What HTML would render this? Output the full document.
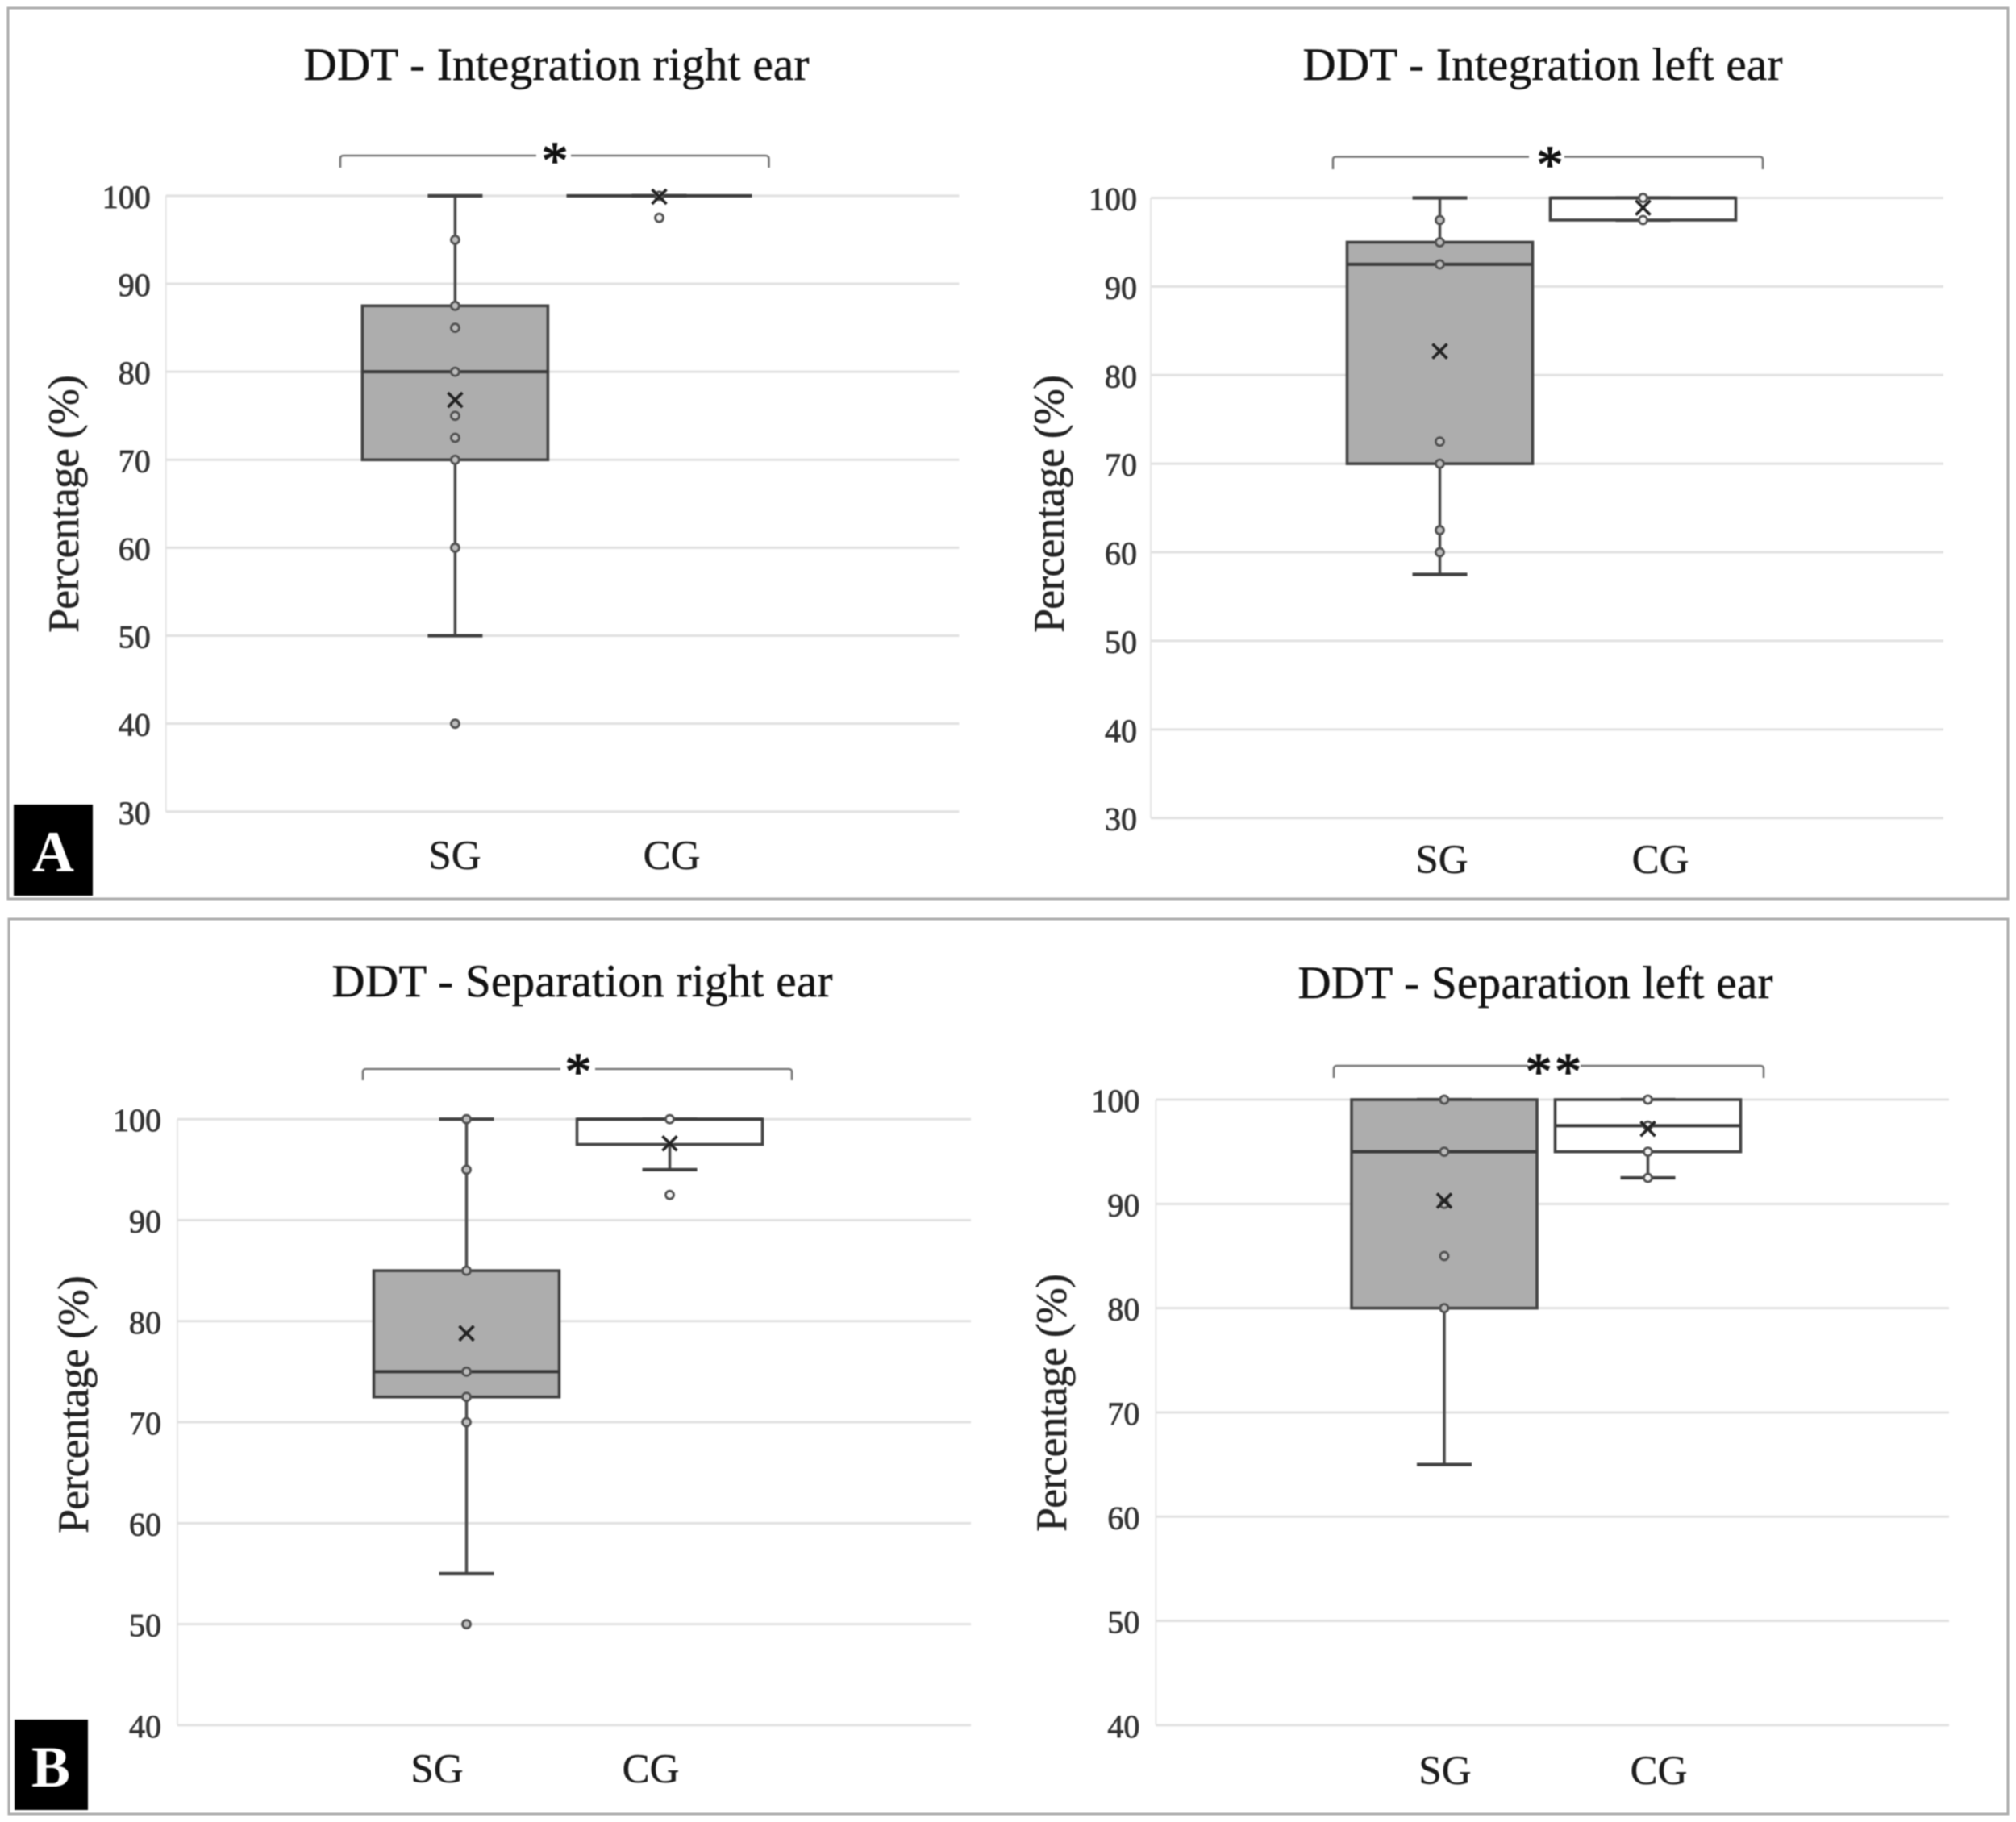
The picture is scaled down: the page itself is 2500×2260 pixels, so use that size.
<!DOCTYPE html>
<html lang="en">
<head>
<meta charset="utf-8">
<title>DDT box plots</title>
<style>
html,body{margin:0;padding:0;background:#fff;}
svg{display:block;filter:blur(0.8px);}
text{font-family:"Liberation Serif",serif;}
.chart-title{font-size:57px;fill:#111;text-anchor:middle;stroke:#111;stroke-width:.5px;}
.axis-title{font-size:54px;fill:#222;text-anchor:middle;stroke:#222;stroke-width:.4px;}
.tick{font-size:40px;fill:#333;text-anchor:end;stroke:#333;stroke-width:.8px;}
.cat{font-size:51px;fill:#1c1c1c;text-anchor:middle;stroke:#1c1c1c;stroke-width:.4px;}
.star{font-size:66px;fill:#111;text-anchor:middle;stroke:#111;stroke-width:1.4px;}
.panel-letter{font-size:72px;fill:#fff;text-anchor:middle;font-weight:bold;}
.bracket{fill:none;stroke:#777;stroke-width:2.6;}
</style>
</head>
<body>
<svg id="figure" xmlns="http://www.w3.org/2000/svg" width="2500" height="2260" viewBox="0 0 2500 2260">
  <rect width="2500" height="2260" fill="#fff"/>
  <rect x="10" y="10" width="2480" height="1105" fill="none" stroke="#ababab" stroke-width="3"/>
  <rect x="11" y="1140" width="2479" height="1110" fill="none" stroke="#ababab" stroke-width="3"/>
  <rect x="17" y="998" width="98" height="113" fill="#000"/>
  <text class="panel-letter" x="66" y="1081">A</text>
  <rect x="18" y="2133" width="91" height="112" fill="#000"/>
  <text class="panel-letter" x="63" y="2216">B</text>

  <text class="chart-title" x="690" y="99" textLength="627">DDT - Integration right ear</text>
  <text class="chart-title" x="1913" y="99" textLength="595">DDT - Integration left ear</text>
  <text class="chart-title" x="722" y="1236" textLength="621">DDT - Separation right ear</text>
  <text class="chart-title" x="1904" y="1238" textLength="589">DDT - Separation left ear</text>

  <text class="axis-title" transform="translate(97 625) rotate(-90)" textLength="320">Percentage (%)</text>
  <text class="axis-title" transform="translate(1319 625) rotate(-90)" textLength="320">Percentage (%)</text>
  <text class="axis-title" transform="translate(109 1742) rotate(-90)" textLength="320">Percentage (%)</text>
  <text class="axis-title" transform="translate(1322 1740) rotate(-90)" textLength="320">Percentage (%)</text>

  <path class="bracket" d="M422 208V197Q422 193 426 193H665"/>
  <path class="bracket" d="M708 193H949Q953.500 193 953.500 197V208"/>
  <text class="star" x="688" y="221">*</text>
  <path class="bracket" d="M1653 210V198Q1653 194.500 1657 194.500H1896"/>
  <path class="bracket" d="M1940 194.500H2182Q2186 194.500 2186 198V210"/>
  <text class="star" x="1922" y="226">*</text>
  <path class="bracket" d="M450 1340V1330Q450 1326 454 1326H695"/>
  <path class="bracket" d="M738 1326H978Q982 1326 982 1330V1340"/>
  <text class="star" x="717" y="1351">*</text>
  <path class="bracket" d="M1654 1337V1326Q1654 1322 1658 1322H1895"/>
  <path class="bracket" d="M1960 1322H2183Q2187 1322 2187 1326V1337"/>
  <text class="star" x="1928" y="1351" letter-spacing="3.5">**</text>

  <g id="marks"></g>
</svg>
<script>
const categories = ['SG', 'CG'];
const ticksIntegration = [30, 40, 50, 60, 70, 80, 90, 100];
const ticksSeparation = [40, 50, 60, 70, 80, 90, 100];

const integrationRightWhiskerLow = [50, 100];
const integrationRightWhiskerHigh = [100, 100];
const integrationRightQ1 = [70, 100];
const integrationRightQ3 = [87.5, 100];
const integrationRightMedian = [80, 100];
const integrationRightMean = [76.8, 99.9];
const integrationRightPointsSG = [95, 87.5, 85, 80, 75, 72.5, 70, 60, 40];
const integrationRightPointsCG = [100, 97.5];

const integrationLeftWhiskerLow = [57.5, 97.5];
const integrationLeftWhiskerHigh = [100, 100];
const integrationLeftQ1 = [70, 97.5];
const integrationLeftQ3 = [95, 100];
const integrationLeftMedian = [92.5, 100];
const integrationLeftMean = [82.7, 98.9];
const integrationLeftPointsSG = [97.5, 95, 92.5, 72.5, 70, 62.5, 60];
const integrationLeftPointsCG = [100, 97.5];

const separationRightWhiskerLow = [55, 95];
const separationRightWhiskerHigh = [100, 100];
const separationRightQ1 = [72.5, 97.5];
const separationRightQ3 = [85, 100];
const separationRightMedian = [75, 100];
const separationRightMean = [78.8, 97.6];
const separationRightPointsSG = [100, 95, 85, 75, 72.5, 70, 50];
const separationRightPointsCG = [100, 92.5];

const separationLeftWhiskerLow = [65, 92.5];
const separationLeftWhiskerHigh = [100, 100];
const separationLeftQ1 = [80, 95];
const separationLeftQ3 = [100, 100];
const separationLeftMedian = [95, 97.5];
const separationLeftMean = [90.3, 97.2];
const separationLeftPointsSG = [100, 95, 90, 85, 80];
const separationLeftPointsCG = [100, 97.5, 95, 92.5];

const charts = [
  { name: 'integration-right', ticks: ticksIntegration, tickGap: 19,
    low: integrationRightWhiskerLow, high: integrationRightWhiskerHigh, q1: integrationRightQ1, q3: integrationRightQ3,
    median: integrationRightMedian, mean: integrationRightMean, points: [integrationRightPointsSG, integrationRightPointsCG],
    left: 205.7, right: 1189.4, top: 242.9, bottom: 1006.8, centers: [564.400, 817.500], catX: [564, 833], catY: 1078 },
  { name: 'integration-left', ticks: ticksIntegration, tickGap: 17,
    low: integrationLeftWhiskerLow, high: integrationLeftWhiskerHigh, q1: integrationLeftQ1, q3: integrationLeftQ3,
    median: integrationLeftMedian, mean: integrationLeftMean, points: [integrationLeftPointsSG, integrationLeftPointsCG],
    left: 1427, right: 2410, top: 245.5, bottom: 1014.7, centers: [1785.500, 2037.500], catX: [1788, 2059], catY: 1083 },
  { name: 'separation-right', ticks: ticksSeparation, tickGap: 20,
    low: separationRightWhiskerLow, high: separationRightWhiskerHigh, q1: separationRightQ1, q3: separationRightQ3,
    median: separationRightMedian, mean: separationRightMean, points: [separationRightPointsSG, separationRightPointsCG],
    left: 220, right: 1204, top: 1388.2, bottom: 2139.9, centers: [578.500, 830.500], catX: [542, 807], catY: 2211 },
  { name: 'separation-left', ticks: ticksSeparation, tickGap: 20,
    low: separationLeftWhiskerLow, high: separationLeftWhiskerHigh, q1: separationLeftQ1, q3: separationLeftQ3,
    median: separationLeftMedian, mean: separationLeftMean, points: [separationLeftPointsSG, separationLeftPointsCG],
    left: 1433.4, right: 2417, top: 1364, bottom: 2139.9, centers: [1791, 2043.500], catX: [1792, 2057], catY: 2213 }
];

const boxFill = ['#adadad', '#ffffff'];
const BOX_HALF = 115;
const CAP_HALF = 34;
const NS = 'http://www.w3.org/2000/svg';
const root = document.getElementById('marks');

function make(tag, attrs, parent) {
  const el = document.createElementNS(NS, tag);
  for (const k in attrs) el.setAttribute(k, attrs[k]);
  parent.appendChild(el);
  return el;
}

function yAxis(chart) {
  const min = Math.min(...chart.ticks);
  const max = Math.max(...chart.ticks);
  return v => chart.top + (max - v) / (max - min) * (chart.bottom - chart.top);
}

charts.forEach(chart => {
  const y = yAxis(chart);
  const g = make('g', {}, root);
  
  

  const axis = make('line', { x1: chart.left, x2: chart.left, y1: chart.top, y2: chart.bottom, stroke: '#e6e6e6', 'stroke-width': 2 }, g);
  
  

  chart.ticks.forEach(t => {
    const grid = make('line', { x1: chart.left, x2: chart.right, y1: y(t), y2: y(t), stroke: '#e1e1e1', 'stroke-width': 3 }, g);
    
    
    const label = make('text', { class: 'tick', x: chart.left - chart.tickGap, y: y(t) + 15 }, g);
    
    
    label.textContent = t;
  });

  categories.forEach((cat, i) => {
    const cx = chart.centers[i];

    const label = make('text', { class: 'cat', x: chart.catX[i], y: chart.catY }, g);
    
    
    label.textContent = cat;

    const whisker = make('line', { x1: cx, x2: cx, y1: y(chart.low[i]), y2: y(chart.high[i]), stroke: '#4e4e4e', 'stroke-width': 3.6 }, g);
    
    

    [chart.low[i], chart.high[i]].forEach(v => {
      const cap = make('line', { x1: cx - CAP_HALF, x2: cx + CAP_HALF, y1: y(v), y2: y(v), stroke: '#404040', 'stroke-width': 4.2 }, g);
      
      
    });

    const box = make('rect', { x: cx - BOX_HALF, width: BOX_HALF * 2, y: y(chart.q3[i]), height: y(chart.q1[i]) - y(chart.q3[i]), fill: boxFill[i], stroke: '#424242', 'stroke-width': 3.6 }, g);
    
    

    const med = make('line', { x1: cx - BOX_HALF, x2: cx + BOX_HALF, y1: y(chart.median[i]), y2: y(chart.median[i]), stroke: '#3a3a3a', 'stroke-width': 4 }, g);
    
    

    chart.points[i].forEach(v => {
      const dot = make('circle', { cx: cx, cy: y(v), r: 5, fill: i === 0 ? '#bcbcbc' : '#f4f4f4', stroke: '#505050', 'stroke-width': 2.8 }, g);
      
      
    });

    const my = y(chart.mean[i]);
    const mean = make('path', { d: 'M' + (cx - 9) + ' ' + (my - 9) + 'L' + (cx + 9) + ' ' + (my + 9) + 'M' + (cx + 9) + ' ' + (my - 9) + 'L' + (cx - 9) + ' ' + (my + 9), fill: 'none', stroke: '#222', 'stroke-width': 3.6 }, g);
    
    
  });
});
</script>
</body>
</html>
